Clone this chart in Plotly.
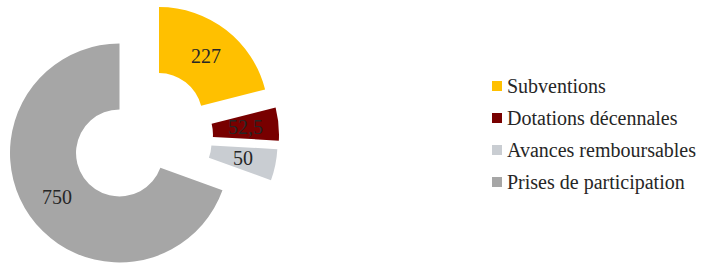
import math
import plotly.graph_objects as go

# ---- data ----
labels = ["Subventions", "Dotations décennales", "Avances remboursables", "Prises de participation"]
values = [227, 52.5, 50, 750]
colors = ["#FFC000", "#780000", "#C9CDD2", "#A6A6A6"]

# ---- layout constants (pixels) ----
W, H = 709, 264
R = 109.5                     # outer radius
HOLE = 0.397                  # inner / outer radius
# exploded centre of each slice
centres = [(159, 116.5), (169.5, 134.5), (168, 143), (119.5, 153)]
FONT = "Liberation Serif"
TXT = "#262626"

fig = go.Figure()
order = [3, 0, 1, 2]
for i in order:
    cx, cy = centres[i]
    fig.add_trace(go.Pie(
        values=values,
        labels=labels,
        sort=False,
        direction="clockwise",
        rotation=0,
        hole=HOLE,
        marker=dict(colors=[c if j == i else "rgba(0,0,0,0)" for j, c in enumerate(colors)],
                    line=dict(width=0)),
        textinfo="none",
        showlegend=False,
        hoverinfo="skip",
        domain=dict(x=[(cx - R) / W, (cx + R) / W],
                    y=[(H - cy - R) / H, (H - cy + R) / H]),
    ))

# ---- data labels: centred on each slice's bisector, mid-ring ----
total = sum(values)
cum = 0.0
rmid = R * (1 + HOLE) / 2
for i, v in enumerate(values):
    a_mid = 90 - 360 * (cum + v / 2) / total   # clockwise from 12 o'clock
    cum += v
    cx, cy = centres[i]
    px = cx + rmid * math.cos(math.radians(a_mid))
    py = cy - rmid * math.sin(math.radians(a_mid))
    txt = ("%g" % v).replace(".", ",")
    fig.add_annotation(xref="paper", yref="paper", x=px / W, y=1 - py / H,
                       text=txt, showarrow=False, xanchor="center", yanchor="middle",
                       font=dict(family=FONT, size=20, color=TXT))

# ---- manual legend ----
leg_x_sw = 492
leg_x_txt = 505
leg_y0 = 86
leg_dy = 32
sw = 10
for k, (lab, col) in enumerate(zip(labels, colors)):
    yc = leg_y0 + k * leg_dy
    fig.add_shape(type="rect", xref="paper", yref="paper",
                  x0=leg_x_sw / W, x1=(leg_x_sw + sw) / W,
                  y0=1 - (yc + sw / 2) / H, y1=1 - (yc - sw / 2) / H,
                  fillcolor=col, line=dict(width=0))
    fig.add_annotation(xref="paper", yref="paper", x=leg_x_txt / W, y=1 - yc / H,
                       text=lab, showarrow=False, xanchor="left", yanchor="middle",
                       font=dict(family=FONT, size=20, color=TXT))

fig.update_layout(
    width=W, height=H,
    margin=dict(l=0, r=0, t=0, b=0),
    paper_bgcolor="white", plot_bgcolor="white",
    showlegend=False,
)
fig.write_html("out.html", config={"displayModeBar": False},
               post_script="document.body.style.margin='0';")
